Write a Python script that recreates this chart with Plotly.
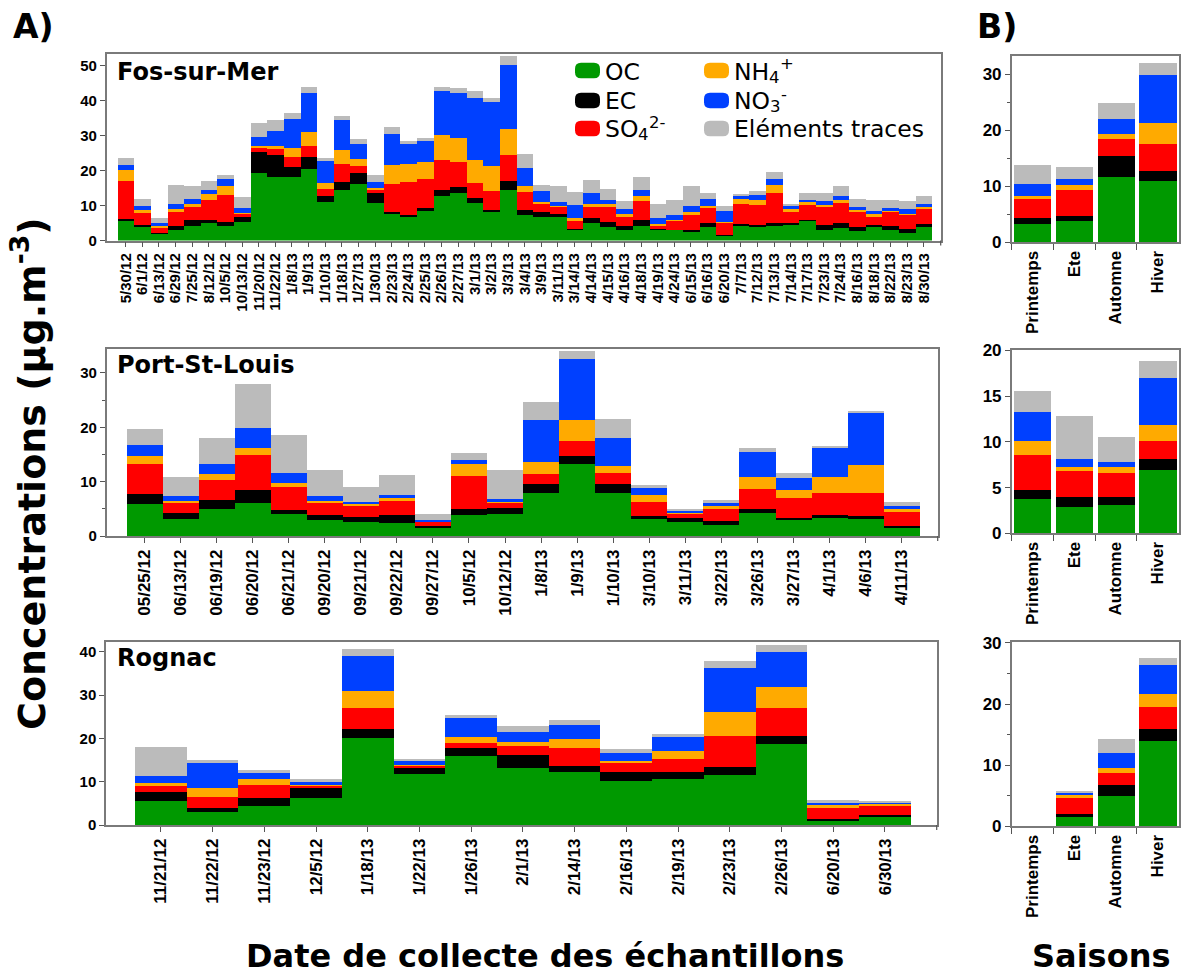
import plotly.graph_objects as go

W, H = 1181, 976

# ---------------- data ----------------
fos_dates = ["5/30/12", "6/1/12", "6/13/12", "6/29/12", "7/25/12", "8/12/12", "10/5/12", "10/13/12",
             "11/20/12", "11/22/12", "1/8/13", "1/9/13", "1/10/13", "1/18/13", "1/27/13", "1/30/13",
             "2/23/13", "2/24/13", "2/25/13", "2/26/13", "2/27/13", "3/1/13", "3/2/13", "3/3/13",
             "3/4/13", "3/9/13", "3/11/13", "3/14/13", "4/14/13", "4/15/13", "4/16/13", "4/18/13",
             "4/19/13", "4/24/13", "6/15/13", "6/16/13", "6/20/13", "7/7/13", "7/12/13", "7/13/13",
             "7/14/13", "7/17/13", "7/23/13", "7/24/13", "8/16/13", "8/18/13", "8/22/13", "8/23/13",
             "8/30/13"]
fos_oc = [5.7, 4.1, 1.9, 3.0, 4.2, 4.9, 4.1, 5.3, 19.2, 18.2, 18.2, 20.5, 10.9, 14.4, 16.1, 10.6,
          7.7, 6.8, 8.5, 12.8, 13.5, 10.6, 8.1, 14.5, 7.3, 6.6, 6.6, 3.2, 5.1, 3.9, 3.1, 4.1,
          3.0, 3.0, 2.7, 3.9, 1.3, 4.1, 3.9, 4.1, 4.6, 5.6, 3.1, 3.6, 2.8, 4.1, 3.1, 2.2, 3.9]
fos_ec = [0.5, 0.4, 0.3, 1.2, 1.6, 0.9, 1.1, 1.3, 6.1, 6.1, 2.9, 3.3, 1.8, 2.4, 3.3, 3.1,
          0.5, 0.5, 0.9, 1.6, 1.9, 1.5, 0.6, 2.5, 1.4, 1.6, 1.1, 0.2, 1.2, 1.4, 1.0, 1.9,
          0.2, 0.1, 0.3, 1.2, 0.2, 0.6, 0.5, 0.8, 0.3, 0.2, 1.3, 1.5, 1.1, 0.3, 1.1, 1.2, 0.8]
fos_so4 = [10.9, 3.4, 1.6, 4.0, 3.8, 5.8, 7.7, 1.0, 1.3, 1.9, 2.9, 3.2, 1.9, 5.1, 2.0, 0.9,
           7.9, 9.3, 8.2, 8.6, 7.1, 4.4, 5.4, 7.5, 5.2, 2.1, 1.9, 2.1, 3.3, 4.3, 2.9, 5.4,
           1.2, 2.7, 4.3, 4.3, 3.6, 5.7, 5.7, 8.8, 3.3, 4.3, 5.2, 5.7, 4.3, 2.6, 4.0, 3.9, 4.2]
fos_nh4 = [3.1, 0.9, 0.3, 0.7, 0.8, 1.8, 2.7, 0.3, 0.4, 0.8, 2.3, 4.1, 1.9, 4.0, 1.9, 0.3,
           5.5, 5.3, 4.9, 7.2, 6.8, 6.5, 7.2, 7.3, 1.7, 0.8, 0.2, 1.0, 0.7, 0.8, 0.5, 1.2,
           0.3, 0.2, 0.9, 0.4, 0.2, 1.6, 1.4, 2.3, 0.7, 1.0, 0.5, 0.7, 0.5, 0.5, 0.3, 0.2, 0.7]
fos_no3 = [1.4, 1.1, 0.8, 1.5, 1.4, 1.0, 2.1, 1.3, 2.5, 4.3, 8.3, 11.0, 6.1, 8.5, 4.3, 1.7,
           8.7, 5.7, 6.0, 12.4, 12.8, 17.8, 18.2, 18.3, 5.0, 3.0, 1.3, 3.6, 3.4, 1.1, 1.4, 1.7,
           1.6, 1.3, 1.6, 2.0, 3.2, 0.8, 1.5, 1.6, 1.0, 0.4, 1.3, 1.3, 0.9, 0.9, 0.9, 1.4, 0.8]
fos_tr = [2.0, 1.9, 1.6, 5.6, 3.8, 2.7, 1.1, 3.2, 4.0, 3.1, 1.9, 1.7, 1.0, 1.2, 1.3, 2.1,
          2.2, 0.9, 0.7, 1.4, 1.6, 1.9, 1.3, 2.5, 4.0, 1.9, 4.5, 3.9, 3.6, 3.1, 2.4, 3.9,
          4.1, 4.4, 5.8, 1.7, 1.5, 0.5, 1.2, 1.9, 0.5, 2.0, 2.1, 2.8, 2.4, 3.1, 2.3, 2.4, 2.4]

psl_dates = ["05/25/12", "06/13/12", "06/19/12", "06/20/12", "06/21/12", "09/20/12", "09/21/12",
             "09/22/12", "09/27/12", "10/5/12", "10/12/12", "1/8/13", "1/9/13", "1/10/13",
             "3/10/13", "3/11/13", "3/22/13", "3/26/13", "3/27/13", "4/1/13", "4/6/13", "4/11/13"]
psl_oc = [5.8, 3.2, 4.9, 6.1, 4.1, 3.0, 2.5, 2.4, 1.6, 3.9, 4.1, 7.9, 13.3, 8.0, 3.1, 2.6, 2.1, 4.2, 2.9, 3.4, 3.2, 1.5]
psl_ec = [1.9, 1.1, 1.7, 2.4, 0.7, 0.8, 1.0, 1.5, 0.3, 1.0, 1.1, 1.6, 1.5, 1.5, 0.6, 0.8, 0.6, 0.7, 0.5, 0.5, 0.5, 0.3]
psl_so4 = [5.5, 1.7, 3.7, 6.4, 4.2, 2.3, 2.0, 2.6, 0.7, 6.2, 1.0, 1.9, 2.6, 2.1, 2.6, 0.7, 2.3, 3.8, 3.5, 4.1, 4.3, 2.6]
psl_nh4 = [1.6, 0.4, 1.1, 1.3, 0.8, 0.3, 0.4, 0.4, 0.1, 2.2, 0.1, 2.3, 3.9, 1.3, 1.3, 0.1, 0.7, 2.2, 1.6, 2.8, 5.0, 0.5]
psl_no3 = [1.9, 1.0, 1.8, 3.7, 1.7, 1.0, 0.4, 0.7, 0.2, 0.7, 0.5, 7.6, 11.3, 5.2, 1.3, 0.4, 0.3, 4.6, 2.1, 5.4, 9.7, 0.6]
psl_tr = [3.0, 3.4, 4.8, 8.1, 7.0, 4.8, 2.7, 3.7, 1.2, 1.3, 5.3, 3.4, 1.5, 3.5, 0.4, 0.3, 0.7, 0.6, 1.0, 0.2, 0.2, 0.7]

rog_dates = ["11/21/12", "11/22/12", "11/23/12", "12/5/12", "1/18/13", "1/22/13", "1/26/13", "2/1/13",
             "2/14/13", "2/16/13", "2/19/13", "2/23/13", "2/26/13", "6/20/13", "6/30/13"]
rog_oc = [5.6, 3.1, 4.5, 6.2, 20.1, 11.8, 15.9, 13.3, 12.3, 10.2, 10.8, 11.6, 18.8, 1.2, 2.0]
rog_ec = [2.0, 1.0, 1.8, 2.4, 2.2, 1.4, 1.9, 2.9, 1.3, 2.0, 1.4, 1.9, 1.7, 0.2, 0.3]
rog_so4 = [1.4, 2.5, 3.1, 0.6, 4.8, 0.6, 1.3, 2.2, 4.3, 2.1, 3.2, 7.2, 6.6, 2.7, 2.2]
rog_nh4 = [0.7, 2.0, 1.4, 0.2, 3.8, 0.2, 1.3, 0.8, 2.0, 0.5, 1.8, 5.5, 4.9, 0.8, 0.5]
rog_no3 = [1.7, 5.7, 1.2, 0.5, 8.2, 0.8, 4.4, 2.4, 3.2, 1.9, 3.1, 10.1, 7.9, 0.3, 0.3]
rog_tr = [6.7, 0.7, 0.7, 0.8, 1.5, 0.6, 0.7, 1.3, 1.3, 1.0, 0.8, 1.6, 1.8, 0.6, 0.3]

seasons = ["Printemps", "Ete", "Automne", "Hiver"]
fos_s_oc = [3.3, 3.8, 11.7, 10.9]
fos_s_ec = [1.0, 0.9, 3.7, 1.8]
fos_s_so4 = [3.4, 4.7, 3.0, 4.9]
fos_s_nh4 = [0.6, 0.9, 1.0, 3.7]
fos_s_no3 = [2.1, 1.1, 2.7, 8.6]
fos_s_tr = [3.4, 2.0, 2.8, 2.1]

psl_s_oc = [3.7, 2.9, 3.1, 6.9]
psl_s_ec = [1.0, 1.1, 0.9, 1.2]
psl_s_so4 = [3.9, 2.8, 2.6, 2.0]
psl_s_nh4 = [1.5, 0.4, 0.6, 1.8]
psl_s_no3 = [3.2, 0.9, 0.6, 5.1]
psl_s_tr = [2.3, 4.7, 2.7, 1.9]

rog_s_oc = [0.0, 1.6, 4.9, 13.9]
rog_s_ec = [0.0, 0.3, 1.8, 1.9]
rog_s_so4 = [0.0, 2.6, 1.9, 3.6]
rog_s_nh4 = [0.0, 0.6, 0.9, 2.2]
rog_s_no3 = [0.0, 0.3, 2.4, 4.7]
rog_s_tr = [0.0, 0.3, 2.3, 1.2]

comp_names = ["OC", "EC", "SO4", "NH4", "NO3", "Traces"]
comp_colors = ["#009900", "#000000", "#FF0000", "#FFAA00", "#0040FF", "#BBBBBB"]

# ---------------- helpers ----------------
def px(x):
    return x / W


def py(y):
    return 1 - y / H


BOLD_SANS = "Liberation Sans, Arial, sans-serif"
TITLE_FONT = "DejaVu Sans, Verdana, sans-serif"

fig = go.Figure()

main_panels = [
    dict(name="Fos-sur-Mer", dates=fos_dates,
         vals=[fos_oc, fos_ec, fos_so4, fos_nh4, fos_no3, fos_tr],
         xd=(106.7, 940.7), yd=(54, 240.5), xr=(-1.14, 49.02), yr=(0, 53.3),
         minor=None, title_y=72, fsize=15),
    dict(name="Port-St-Louis", dates=psl_dates,
         vals=[psl_oc, psl_ec, psl_so4, psl_nh4, psl_no3, psl_tr],
         xd=(106.7, 937.7), yd=(349, 536), xr=(-1.056, 22.01), yr=(0, 34.4),
         minor=5, title_y=365, fsize=17),
    dict(name="Rognac", dates=rog_dates,
         vals=[rog_oc, rog_ec, rog_so4, rog_nh4, rog_no3, rog_tr],
         xd=(106, 936.7), yd=(641.7, 825), xr=(-1.06, 15.0), yr=(0, 42.3),
         minor=None, title_y=658, fsize=17),
]

season_panels = [
    dict(vals=[fos_s_oc, fos_s_ec, fos_s_so4, fos_s_nh4, fos_s_no3, fos_s_tr],
         yd=(56, 242.3), yr=(0, 33.3), dtick=10, minor=5),
    dict(vals=[psl_s_oc, psl_s_ec, psl_s_so4, psl_s_nh4, psl_s_no3, psl_s_tr],
         yd=(350, 533.3), yr=(0, 20.05), dtick=5, minor=None),
    dict(vals=[rog_s_oc, rog_s_ec, rog_s_so4, rog_s_nh4, rog_s_no3, rog_s_tr],
         yd=(642.3, 826.3), yr=(0, 30.1), dtick=10, minor=5),
]

AXIS_COLOR = "#7a7a7a"
TICK_COLOR = "#555555"
axis_common = dict(showline=True, linecolor=AXIS_COLOR, linewidth=1.5, mirror=True,
                   ticks="outside", ticklen=5, tickwidth=1.2, tickcolor=TICK_COLOR,
                   showgrid=False, zeroline=False)

layout_axes = {}
annotations = []
shapes = []
idx = 0
for p in main_panels:
    idx += 1
    xa = "x" if idx == 1 else "x%d" % idx
    ya = "y" if idx == 1 else "y%d" % idx
    n = len(p["dates"])
    xs = list(range(n))
    for name, color, vals in zip(comp_names, comp_colors, p["vals"]):
        fig.add_trace(go.Bar(x=xs, y=vals, name=name, marker=dict(color=color, line=dict(width=0)),
                             width=1.0, xaxis=xa, yaxis=ya, showlegend=False))
    xkey = "xaxis" if idx == 1 else "xaxis%d" % idx
    ykey = "yaxis" if idx == 1 else "yaxis%d" % idx
    layout_axes[xkey] = dict(axis_common, domain=[px(p["xd"][0]), px(p["xd"][1])],
                             range=list(p["xr"]), anchor=ya,
                             tickmode="array", tickvals=xs,
                             ticktext=p["dates"], tickangle=-90,
                             tickfont=dict(family=BOLD_SANS, size=p["fsize"], color="black", weight="bold"))
    # closing tick at the right end of the date axis
    shapes.append(dict(type="line", xref="paper", yref="paper",
                       x0=px(p["xd"][1]), x1=px(p["xd"][1]),
                       y0=py(p["yd"][1]), y1=py(p["yd"][1] + 5),
                       line=dict(color=TICK_COLOR, width=1.2)))
    yopts = dict(axis_common, domain=[py(p["yd"][1]), py(p["yd"][0])], range=list(p["yr"]),
                 anchor=xa, dtick=10, tick0=0,
                 tickfont=dict(family=BOLD_SANS, size=15, color="black", weight="bold"))
    if p["minor"]:
        yopts["minor"] = dict(dtick=p["minor"], ticks="outside", ticklen=3, tickcolor=TICK_COLOR)
    layout_axes[ykey] = yopts
    annotations.append(dict(text=p["name"], x=px(115), y=py(p["title_y"]), xref="paper", yref="paper",
                            xanchor="left", yanchor="middle", showarrow=False,
                            font=dict(family=TITLE_FONT, size=24, color="black", weight="bold")))

for s in season_panels:
    idx += 1
    xa = "x%d" % idx
    ya = "y%d" % idx
    for name, color, vals in zip(comp_names, comp_colors, s["vals"]):
        fig.add_trace(go.Bar(x=seasons, y=vals, name=name, marker=dict(color=color, line=dict(width=0)),
                             width=0.89, xaxis=xa, yaxis=ya, showlegend=False))
    layout_axes["xaxis%d" % idx] = dict(axis_common, domain=[px(1011.7), px(1178.5)], anchor=ya,
                                         type="category", tickson="boundaries", tickangle=-90,
                                         ticklen=6,
                                         tickfont=dict(family=BOLD_SANS, size=17, color="black", weight="bold"))
    yopts = dict(axis_common, domain=[py(s["yd"][1]), py(s["yd"][0])], range=list(s["yr"]),
                 anchor=xa, dtick=s["dtick"], tick0=0,
                 tickfont=dict(family=BOLD_SANS, size=17, color="black", weight="bold"))
    if s["minor"]:
        yopts["minor"] = dict(dtick=s["minor"], ticks="outside", ticklen=3, tickcolor=TICK_COLOR)
    layout_axes["yaxis%d" % idx] = yopts

# ---------------- legend (drawn) ----------------
def rrect(x0, y0, x1, y1, r):
    pts = [
        ("M", x0 + r, y0), ("L", x1 - r, y0), ("Q", x1, y0, x1, y0 + r), ("L", x1, y1 - r),
        ("Q", x1, y1, x1 - r, y1), ("L", x0 + r, y1), ("Q", x0, y1, x0, y1 - r), ("L", x0, y0 + r),
        ("Q", x0, y0, x0 + r, y0),
    ]
    out = []
    for p in pts:
        cmd = p[0]
        coords = p[1:]
        cs = []
        for i in range(0, len(coords), 2):
            cs.append("%.5f,%.5f" % (px(coords[i]), py(coords[i + 1])))
        out.append(cmd + " ".join(cs))
    return " ".join(out) + " Z"


LEG_SIZE = 23.5
SMALL = 16.5
# (main text, main width in em, subscript, superscript, colour, x, y)
legend_items = [
    ("OC", 1.485, "", "", comp_colors[0], 575, 70.5),
    ("EC", 1.33, "", "", comp_colors[1], 575, 100.5),
    ("SO", 1.422, "4", "2-", comp_colors[2], 575, 128.5),
    ("NH", 1.50, "4", "+", comp_colors[3], 704, 70.5),
    ("NO", 1.535, "3", "-", comp_colors[4], 704, 100.5),
    ("Eléments traces", 8.08, "", "", comp_colors[5], 704, 128.5),
]


def leg_text(text, x, y, size):
    return dict(text=text, x=px(x), y=py(y), xref="paper", yref="paper",
                xanchor="left", yanchor="middle", showarrow=False, borderpad=0,
                font=dict(family=TITLE_FONT, size=size, color="black"))


for text, wem, sub, sup, color, lx, ly in legend_items:
    shapes.append(dict(type="path", xref="paper", yref="paper",
                       path=rrect(lx, ly - 7.8, lx + 25, ly + 7.8, 6),
                       fillcolor=color, line=dict(width=0)))
    tx = lx + 29
    annotations.append(leg_text(text, tx, ly + 1, LEG_SIZE))
    if sub:
        sx = tx + wem * LEG_SIZE
        annotations.append(leg_text(sub, sx, ly + 6.5, SMALL))
        annotations.append(leg_text(sup, sx + 0.64 * SMALL, ly - 6.5, SMALL))

# ---------------- titles ----------------
annotations += [
    dict(text="A)", x=px(33), y=py(26), xref="paper", yref="paper", showarrow=False,
         xanchor="center", yanchor="middle",
         font=dict(family=TITLE_FONT, size=33, color="black", weight="bold")),
    dict(text="B)", x=px(997), y=py(26), xref="paper", yref="paper", showarrow=False,
         xanchor="center", yanchor="middle",
         font=dict(family=TITLE_FONT, size=33, color="black", weight="bold")),
    dict(text="Concentrations (µg.m<sup>-3</sup>)", x=px(29), y=py(474), xref="paper", yref="paper",
         showarrow=False, textangle=-90, xanchor="center", yanchor="middle",
         font=dict(family=TITLE_FONT, size=38, color="black", weight="bold")),
    dict(text="Date de collecte des échantillons", x=px(545), y=py(956), xref="paper", yref="paper",
         showarrow=False, xanchor="center", yanchor="middle",
         font=dict(family=TITLE_FONT, size=32, color="black", weight="bold")),
    dict(text="Saisons", x=px(1101), y=py(956), xref="paper", yref="paper",
         showarrow=False, xanchor="center", yanchor="middle",
         font=dict(family=TITLE_FONT, size=32, color="black", weight="bold")),
]

fig.update_layout(
    width=W, height=H, margin=dict(l=0, r=0, t=0, b=0, autoexpand=False),
    paper_bgcolor="white", plot_bgcolor="white", barmode="stack", bargap=0,
    showlegend=False, annotations=annotations, shapes=shapes,
    **layout_axes,
)

fig.write_html("out.html", config={"displayModeBar": False},
               post_script="document.body.style.margin='0';document.body.style.padding='0';"
                           "document.body.style.overflow='hidden';")
